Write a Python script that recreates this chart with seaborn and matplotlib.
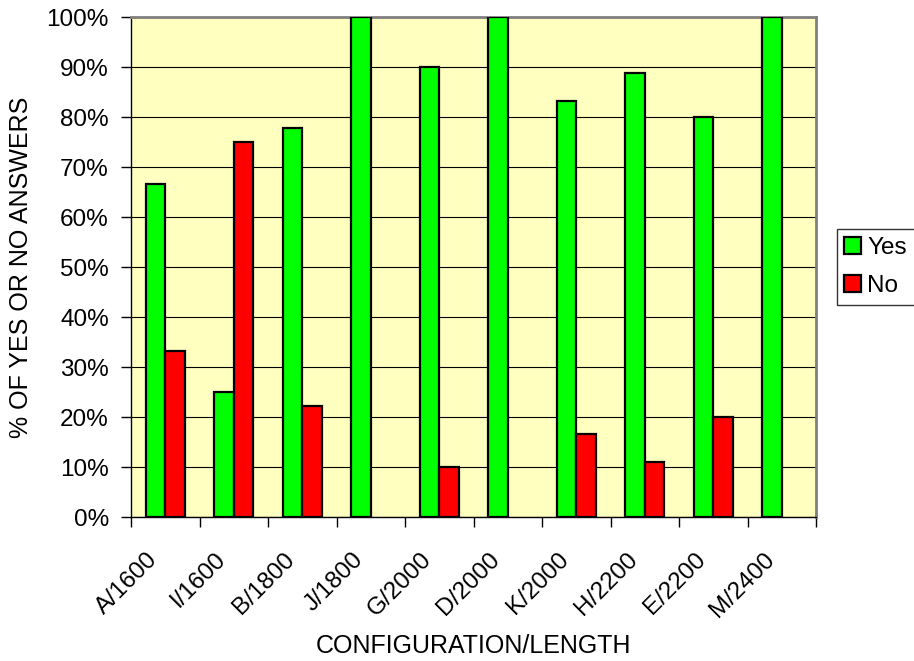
import pandas as pd
import matplotlib.pyplot as plt
import seaborn as sns

# Data
configs = ['A/1600', 'I/1600', 'B/1800', 'J/1800', 'G/2000',
           'D/2000', 'K/2000', 'H/2200', 'E/2200', 'M/2400']
yes_pct = [66.7, 25.0, 77.8, 100.0, 90.0, 100.0, 83.3, 88.9, 80.0, 100.0]
no_pct = [33.3, 75.0, 22.2, 0.0, 10.0, 0.0, 16.7, 11.1, 20.0, 0.0]

df = pd.DataFrame({
    'config': configs * 2,
    'pct': yes_pct + no_pct,
    'answer': ['Yes'] * len(configs) + ['No'] * len(configs),
})

sns.set_style('white')
plt.rcParams['font.family'] = ['Liberation Sans', 'DejaVu Sans']
plt.rcParams['text.color'] = 'black'
plt.rcParams['axes.labelcolor'] = 'black'
plt.rcParams['xtick.color'] = 'black'
plt.rcParams['ytick.color'] = 'black'

fig = plt.figure(figsize=(9.14, 6.61), dpi=100)
ax = fig.add_axes([131 / 914, 1 - 517 / 661, 685 / 914, 500 / 661])
ax.set_facecolor('#FFFFC0')

sns.barplot(data=df, x='config', y='pct', hue='answer', order=configs,
            hue_order=['Yes', 'No'], palette={'Yes': '#00FF00', 'No': '#FF0000'},
            saturation=1, width=0.57, edgecolor='black', linewidth=1.6,
            ax=ax, zorder=3)

# zero answers get no bar at all
for cont in ax.containers:
    for bar in cont:
        if bar.get_height() == 0:
            bar.set_visible(False)

# gridlines
ax.set_ylim(0, 100)
ax.set_yticks(range(0, 101, 10))
ax.set_yticklabels([f'{v}%' for v in range(0, 101, 10)], fontsize=17.5)
ax.yaxis.grid(True, color='black', linewidth=0.8)
ax.set_axisbelow(True)

# category boundaries as ticks, labels in between (nudged left like Excel)
ax.set_xlim(-0.5, len(configs) - 0.5)
ax.set_xticks([i - 0.5 for i in range(len(configs) + 1)])
ax.set_xticklabels([])
ax.set_xticks([i - 0.16 for i in range(len(configs))], minor=True)
ax.set_xticklabels(configs, minor=True, rotation=45, ha='right', va='center',
                   rotation_mode='anchor', fontsize=17.5)
ax.tick_params(axis='x', which='major', direction='out', length=7, width=1,
               bottom=True)
ax.tick_params(axis='x', which='minor', length=0, pad=28)
ax.tick_params(axis='y', direction='out', length=7, width=1, left=True, pad=9)

for side in ['top', 'right']:
    ax.spines[side].set_color('#808080')
    ax.spines[side].set_linewidth(2)
for side in ['left', 'bottom']:
    ax.spines[side].set_color('black')
    ax.spines[side].set_linewidth(1)

ax.set_xlabel('CONFIGURATION/LENGTH', fontsize=18)
ax.xaxis.set_label_coords(0.5, -0.234)
ax.set_ylabel('% OF YES OR NO ANSWERS', fontsize=18)
ax.yaxis.set_label_coords(-0.143, 0.5)

leg = ax.legend(loc='center left', bbox_to_anchor=(1.03, 0.5), fontsize=17.5,
                frameon=True, fancybox=False, edgecolor='black',
                handlelength=0.7, handleheight=0.7, handletextpad=0.25,
                borderpad=0.32, labelspacing=0.68, borderaxespad=0)
leg.get_frame().set_linewidth(1)

fig.savefig('out.png', dpi=100)
